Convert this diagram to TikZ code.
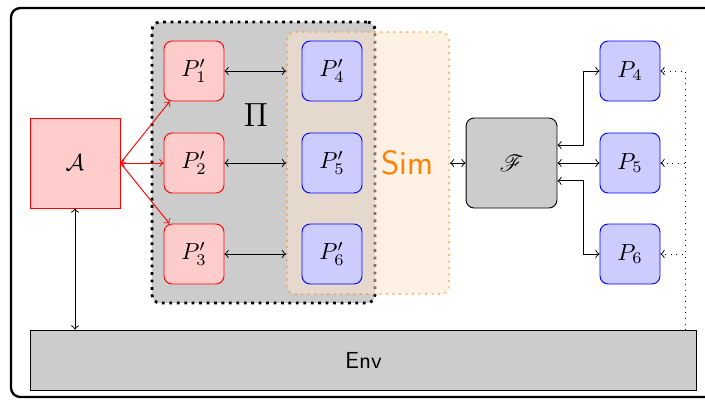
\documentclass[tikz,border=0pt]{standalone}
\usepackage{mathrsfs}
\begin{document}
\begin{tikzpicture}[x=0.43pt,y=-0.43pt,
		rp/.style={draw=red,fill=red!20,rounded corners=3.5pt,minimum size=25.8pt,inner sep=0pt},
		bp/.style={draw=blue,fill=blue!20,rounded corners=3.5pt,minimum size=25.8pt,inner sep=0pt},
		gb/.style={draw,fill=gray!40,inner sep=0pt}]
			\useasboundingbox (0,0) rectangle (705,399);
			\draw[line width=1pt,rounded corners=4pt] (11,8) rectangle (715,397);
			\node (Pi) at (263.5,162.5) [gb,very thick,dotted,rounded corners=3.5pt,minimum width=95.9pt,minimum height=120.8pt] {};
			\node (Sm) at (368,163) [draw=orange,draw opacity=.5,thick,dotted,fill=orange!20,fill opacity=.5,rounded corners=3.5pt,minimum width=69.7pt,minimum height=112.7pt] {};
			\node (Pl) at (256,115) [] {\Large$\Pi$};
			\node (Sl) at (407,163) [text=orange] {\Large\sffamily Sim};
			\node (A) at (75,163) [draw=red,fill=red!20,minimum size=38.7pt] {$\mathcal{A}$};
			\node (P1) at (194,71) [rp] {$P'_1$} edge [red,<->] (A.east);
			\node (P2) at (194,163) [rp] {$P'_2$} edge [red,<->] (A.east);
			\node (P3) at (194,254) [rp] {$P'_3$} edge [red,<->] (A.east);
			\node (P4) at (332,71) [bp] {$P'_4$};
			\node (P5) at (332,163) [bp] {$P'_5$};
			\node (P6) at (332,254) [bp] {$P'_6$};
			\node (F) at (511.5,163) [gb,rounded corners=3.5pt,minimum width=39.1pt,minimum height=38.7pt] {$\mathscr{F}$} edge [<->] (Sm);
			\node (H4) at (630,71) [bp] {$P_4$};
			\node (H5) at (630,163) [bp] {$P_5$} edge [<->] (F);
			\node (H6) at (630,254) [bp] {$P_6$};
			\node (Ev) at (363.5,360) [gb,minimum width=286pt,minimum height=25.8pt] {\sffamily Env};
			\coordinate (Et) at (685,330);
			\foreach \i in {1,2,3}
				\draw[<->] (P\i) -- (P\i -| Sm.west);
			\draw[<->] ([yshift=7.7pt]F.east) -- ++(26,0) |- (H4);
			\draw[<->] ([yshift=-7.7pt]F.east) -- ++(26,0) |- (H6);
			\draw[<->] (A) -- (A |- Ev.north);
			\foreach \n in {H4,H5,H6}
				\draw[dotted,->] (Et) |- (\n);
		\end{tikzpicture}
\end{document}
